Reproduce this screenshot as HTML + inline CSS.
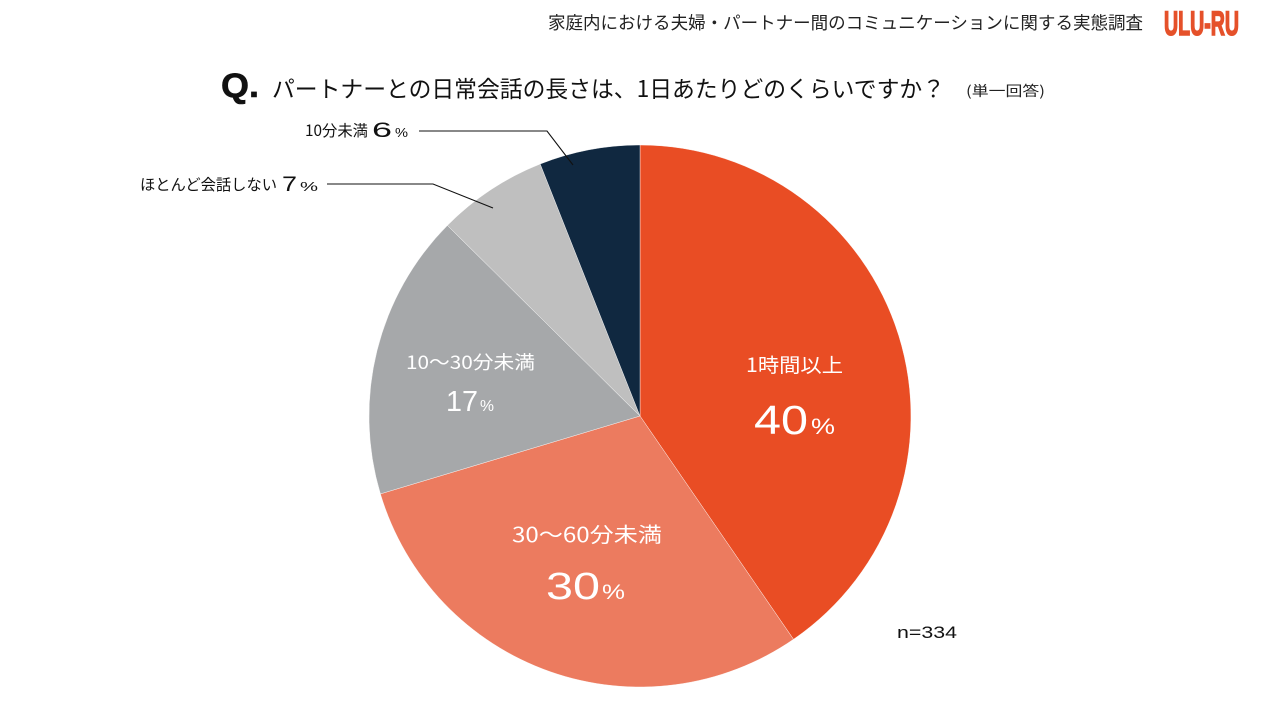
<!DOCTYPE html>
<html>
<head>
<meta charset="utf-8">
<style>
html,body{margin:0;padding:0;background:#fff;}
svg{display:block;}
text{font-family:"Liberation Sans","Noto Sans CJK JP",sans-serif;}
.jp{font-family:"Noto Sans CJK JP","Liberation Sans",sans-serif;}
</style>
</head>
<body>
<svg width="1280" height="720" viewBox="0 0 1280 720" xmlns="http://www.w3.org/2000/svg">
<rect width="1280" height="720" fill="#ffffff"/>

<!-- header -->
<text class="jp" x="548" y="29" font-size="17.5" fill="#222" textLength="595" lengthAdjust="spacingAndGlyphs">家庭内における夫婦・パートナー間のコミュニケーションに関する実態調査</text>
<text x="1164" y="35" font-size="34" font-weight="bold" fill="#E5512A" stroke="#E5512A" stroke-width="1.6" textLength="75" lengthAdjust="spacingAndGlyphs">ULU-RU</text>

<!-- title -->
<text x="221" y="97" font-size="34" font-weight="bold" fill="#111" stroke="#111" stroke-width="0.6" textLength="38" lengthAdjust="spacingAndGlyphs">Q.</text>
<text class="jp" x="272" y="97" font-size="23" fill="#111" textLength="673" lengthAdjust="spacingAndGlyphs">パートナーとの日常会話の長さは、1日あたりどのくらいですか？</text>
<text class="jp" x="966" y="96" font-size="14" fill="#222" textLength="79" lengthAdjust="spacingAndGlyphs">(単一回答)</text>

<!-- pie -->
<g stroke="#ffffff" stroke-width="0.4">
<path d="M640,416 L640,145 A271,271 0 0 1 793.5,639.3 Z" fill="#E94D24"/>
<path d="M640,416 L793.5,639.3 A271,271 0 0 1 380.4,493.9 Z" fill="#EC7B5F"/>
<path d="M640,416 L380.4,493.9 A271,271 0 0 1 447.4,225.4 Z" fill="#A6A8AA"/>
<path d="M640,416 L447.4,225.4 A271,271 0 0 1 540.2,164.0 Z" fill="#BFBFBF"/>
<path d="M640,416 L540.2,164.0 A271,271 0 0 1 640,145 Z" fill="#102840"/>
</g>

<!-- inner labels -->
<text class="jp" x="746" y="372" font-size="19.5" fill="#fff" textLength="97" lengthAdjust="spacingAndGlyphs">1時間以上</text>
<text x="754" y="434" font-size="41" fill="#fff" textLength="54" lengthAdjust="spacingAndGlyphs">40</text>
<text x="811" y="434" font-size="22" fill="#fff" textLength="24" lengthAdjust="spacingAndGlyphs">%</text>

<text class="jp" x="406" y="369" font-size="18.5" fill="#fff" textLength="129" lengthAdjust="spacingAndGlyphs">10〜30分未満</text>
<text x="446" y="411" font-size="29" fill="#fff" textLength="32" lengthAdjust="spacingAndGlyphs">17</text>
<text x="480" y="411" font-size="16" fill="#fff" textLength="14" lengthAdjust="spacingAndGlyphs">%</text>

<text class="jp" x="512" y="542" font-size="20.5" fill="#fff" textLength="150" lengthAdjust="spacingAndGlyphs">30〜60分未満</text>
<text x="546" y="599" font-size="38" fill="#fff" textLength="54" lengthAdjust="spacingAndGlyphs">30</text>
<text x="602" y="599" font-size="21" fill="#fff" textLength="23" lengthAdjust="spacingAndGlyphs">%</text>

<!-- outside labels -->
<text class="jp" x="305" y="136" font-size="15.5" fill="#111" textLength="63" lengthAdjust="spacingAndGlyphs">10分未満</text>
<text x="372" y="137" font-size="21" fill="#111" textLength="20" lengthAdjust="spacingAndGlyphs">6</text>
<text x="395" y="137" font-size="13" fill="#111" textLength="13" lengthAdjust="spacingAndGlyphs">%</text>
<polyline points="419,131 547,131 573,165" fill="none" stroke="#111" stroke-width="1.1"/>

<text class="jp" x="140" y="190" font-size="15.5" fill="#111" textLength="137" lengthAdjust="spacingAndGlyphs">ほとんど会話しない</text>
<text x="282" y="191" font-size="21" fill="#111" textLength="15" lengthAdjust="spacingAndGlyphs">7</text>
<text x="300" y="191" font-size="13" fill="#111" textLength="18" lengthAdjust="spacingAndGlyphs">%</text>
<polyline points="327,184 433,184 493,208" fill="none" stroke="#111" stroke-width="1.1"/>

<!-- n -->
<text x="897" y="638" font-size="17" fill="#111" textLength="60" lengthAdjust="spacingAndGlyphs">n=334</text>
</svg>
</body>
</html>
